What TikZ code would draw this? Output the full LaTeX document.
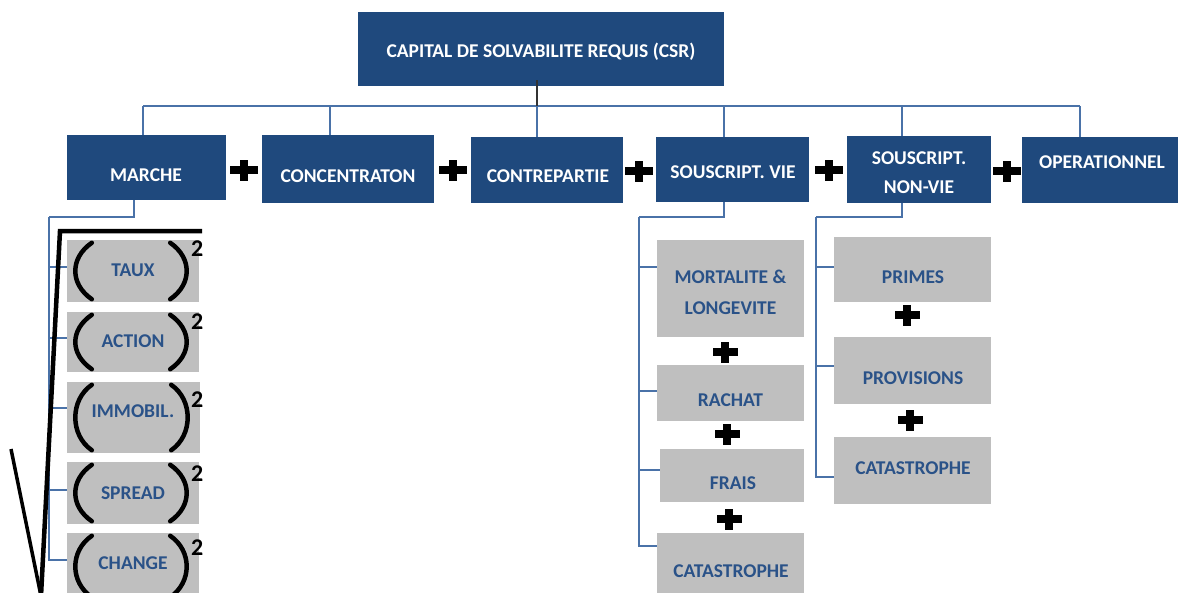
\documentclass[tikz,border=0pt]{standalone}
\usepackage{fontspec}
\setmainfont{Carlito}
\usetikzlibrary{calc}
\definecolor{navy}{HTML}{1F497D}
\definecolor{boxgray}{HTML}{BFBFBF}
\definecolor{gtext}{HTML}{2A5288}
\definecolor{conncol}{HTML}{4A72A8}
\tikzset{
  topbox/.style={rectangle, fill=navy, draw=none, inner sep=0pt},
  graybox/.style={rectangle, fill=boxgray, draw=none, inner sep=0pt},
  ttxt/.style={text=white, font=\bfseries\fontsize{19.5}{29}\selectfont, align=center, inner sep=0pt},
  gtxt/.style={text=gtext, font=\bfseries\fontsize{19.5}{31}\selectfont, align=center, inner sep=0pt},
  conn/.style={draw=conncol, line width=1.3pt},
  darkconn/.style={draw=black!80, line width=1.3pt},
  paren/.style={draw=black, line width=4.5pt, line cap=round},
  radical/.style={draw=black, line width=4.5pt},
  sqtxt/.style={text=black, font=\bfseries\fontsize{24}{24}\selectfont, inner sep=0pt},
  plusbig/.pic={\fill (-14,-4) rectangle (14,4); \fill (-4,-10.5) rectangle (4,10.5);},
  plussmall/.pic={\fill (-12.5,-3.8) rectangle (12.5,3.8); \fill (-3.8,-10.5) rectangle (3.8,10.5);}
}
\newcommand\mkparens[1]{%
  \draw[paren] ([xshift=25,yshift=-3]#1.north west) .. controls ([xshift=3,yshift=-18]#1.north west) and ([xshift=3,yshift=18]#1.south west) .. ([xshift=25,yshift=3]#1.south west);
  \draw[paren] ([xshift=-29,yshift=-3]#1.north east) .. controls ([xshift=-7,yshift=-18]#1.north east) and ([xshift=-7,yshift=18]#1.south east) .. ([xshift=-29,yshift=3]#1.south east);
}
\begin{document}
\begin{tikzpicture}[x=1pt,y=-1pt]
\useasboundingbox (0,0) rectangle (1178,592);
\clip (0,0) rectangle (1178,592);
% top boxes
\node[topbox, minimum width=366, minimum height=74] (csr) at (541,49) {};
\node[ttxt] (tcsr) at (541,52) {CAPITAL DE SOLVABILITE REQUIS (CSR)};
\node[topbox, minimum width=159, minimum height=65] (marche) at (146.5,167.5) {};
\node[ttxt] (tmarche) at (146,175) {MARCHE};
\node[topbox, minimum width=172, minimum height=68] (conc) at (348,169) {};
\node[ttxt] (tconc) at (348,176) {CONCENTRATON};
\node[topbox, minimum width=152, minimum height=66] (contre) at (547,170) {};
\node[ttxt] (tcontre) at (548,176) {CONTREPARTIE};
\node[topbox, minimum width=153, minimum height=65] (svie) at (732.5,169.5) {};
\node[ttxt] (tsvie) at (733,172) {SOUSCRIPT. VIE};
\node[topbox, minimum width=144, minimum height=67] (snv) at (919,169.5) {};
\node[ttxt] (tsnv) at (919,172.5) {SOUSCRIPT.\\NON-VIE};
\node[topbox, minimum width=160, minimum height=66] (oper) at (1102,170) {};
\node[ttxt] (toper) at (1102,162) {OPERATIONNEL};
% bus
\coordinate (b1) at (143,106);
\coordinate (b2) at (330,106);
\coordinate (b3) at (537,106);
\coordinate (b4) at (724,106);
\coordinate (b5) at (902,106);
\coordinate (b6) at (1080,106);
\draw[conn] (b1) -- (b6);
\draw[conn] (b1) -- (b1 |- marche.north);
\draw[conn] (b2) -- (b2 |- conc.north);
\draw[conn] (b3) -- (b3 |- contre.north);
\draw[conn] (b4) -- (b4 |- svie.north);
\draw[conn] (b5) -- (b5 |- snv.north);
\draw[conn] (b6) -- (b6 |- oper.north);
\draw[darkconn] ([xshift=-4,yshift=6]csr.south) -- (b3);
% plus signs top row
\pic at (244,170) {plusbig};
\pic at (453,170) {plusbig};
\pic at (639,171) {plusbig};
\pic at (829,170) {plusbig};
\pic at (1007,171) {plusbig};
% marche children
\node[graybox, minimum width=132, minimum height=62] (taux) at (133,271) {};
\node[gtxt] (ttaux) at (133,270) {TAUX};
\node[graybox, minimum width=132, minimum height=60] (action) at (133,342) {};
\node[gtxt] (taction) at (133,341) {ACTION};
\node[graybox, minimum width=133, minimum height=71] (immo) at (133.5,417.5) {};
\node[gtxt] (timmo) at (133,411) {IMMOBIL.};
\node[graybox, minimum width=132, minimum height=62] (spread) at (133,493) {};
\node[gtxt] (tspread) at (133,493) {SPREAD};
\node[graybox, minimum width=132, minimum height=67] (change) at (133,566.5) {};
\node[gtxt] (tchange) at (133,563) {CHANGE};
\coordinate (mspine) at (49,217);
\draw[conn] ([xshift=-12.5]marche.south) |- (mspine);
\draw[conn] (mspine) |- ([yshift=4]taux.west);
\draw[conn] (mspine) |- ([yshift=4]action.west);
\draw[conn] (mspine) |- ([yshift=9.5]immo.west);
\draw[conn] (mspine) |- ([yshift=3]spread.west);
\draw[conn] (mspine) |- ([yshift=6.5]change.west);
\mkparens{taux}
\mkparens{action}
\mkparens{immo}
\mkparens{spread}
\mkparens{change}
\node[sqtxt] (sq1) at ([xshift=-2,yshift=-9]taux.north east) {2};
\node[sqtxt] (sq2) at ([xshift=-2,yshift=-10]action.north east) {2};
\node[sqtxt] (sq3) at ([xshift=-3,yshift=-18]immo.north east) {2};
\node[sqtxt] (sq4) at ([xshift=-2,yshift=-12]spread.north east) {2};
\node[sqtxt] (sq5) at ([xshift=-2,yshift=-15]change.north east) {2};
% radical
\draw[radical] (202,231) -- (60,231) -- (41,596);
\draw[draw=black, line width=3.5pt] (11,449) -- (41,596);
% souscript vie children
\node[graybox, minimum width=147, minimum height=97] (mort) at (730.5,288.5) {};
\node[gtxt] (tmort) at (730.5,292.5) {MORTALITE \&\\LONGEVITE};
\node[graybox, minimum width=147, minimum height=56] (rachat) at (730.5,393) {};
\node[gtxt] (trachat) at (730.5,400) {RACHAT};
\node[graybox, minimum width=144, minimum height=53] (frais) at (732,475.5) {};
\node[gtxt] (tfrais) at (733,483) {FRAIS};
\node[graybox, minimum width=147, minimum height=67] (catv) at (730.5,566.5) {};
\node[gtxt] (tcatv) at (731,571) {CATASTROPHE};
\coordinate (vspine) at (639,217);
\draw[conn] ([xshift=-8.5]svie.south) |- (vspine);
\draw[conn] (vspine) |- ([yshift=21.5]mort.west);
\draw[conn] (vspine) |- ([yshift=2]rachat.west);
\draw[conn] (vspine) |- ([yshift=5.5]frais.west);
\draw[conn] (vspine) |- ([yshift=20.5]catv.west);
\pic at (725,352) {plussmall};
\pic at (727,434) {plussmall};
\pic at (729,519) {plussmall};
% non-vie children
\node[graybox, minimum width=157, minimum height=65] (primes) at (912.5,269.5) {};
\node[gtxt] (tprimes) at (913,277) {PRIMES};
\node[graybox, minimum width=157, minimum height=67] (prov) at (912.5,370.5) {};
\node[gtxt] (tprov) at (913,378) {PROVISIONS};
\node[graybox, minimum width=157, minimum height=67] (catnv) at (912.5,470.5) {};
\node[gtxt] (tcatnv) at (913,468) {CATASTROPHE};
\coordinate (nspine) at (816,217);
\draw[conn] ([xshift=-17]snv.south) |- (nspine);
\draw[conn] (nspine) |- ([yshift=2.5]primes.west);
\draw[conn] (nspine) |- ([yshift=4.5]prov.west);
\draw[conn] (nspine) |- ([yshift=-6.5]catnv.west);
\pic at (907,315) {plussmall};
\pic at (910,420) {plussmall};
\end{tikzpicture}
\end{document}
